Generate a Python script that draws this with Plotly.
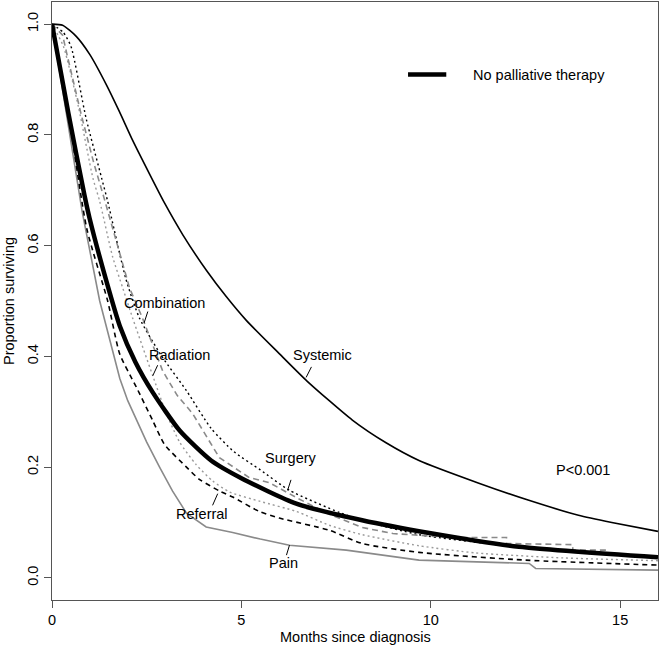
import plotly.graph_objects as go

# ---- data (months since diagnosis, proportion surviving) ----
systemic_x = [0, 0.28, 0.64, 1.0, 1.44, 1.78, 2.13, 2.57, 2.97, 3.45, 4.08, 4.6, 5.13, 6.0, 6.74,
              7.93, 8.82, 9.69, 11.27, 12.59, 13.9, 14.78, 16]
systemic_y = [1.0, 0.998, 0.978, 0.945, 0.89, 0.842, 0.79, 0.73, 0.677, 0.62, 0.555, 0.508, 0.465,
              0.405, 0.355, 0.285, 0.244, 0.212, 0.171, 0.140, 0.113, 0.10, 0.084]

none_x = [0, 0.43, 0.86, 0.99, 1.44, 1.79, 2.2, 2.66, 3.37, 4.2, 5.0, 6.45, 8.19, 9.96, 12.33, 16]
none_y = [1.0, 0.84, 0.69, 0.65, 0.535, 0.455, 0.39, 0.335, 0.266, 0.212, 0.18, 0.134, 0.104,
          0.081, 0.056, 0.037]

pain_x = [0, 0.4, 0.8, 1.26, 1.79, 2.0, 2.5, 2.84, 3.18, 3.55, 4.07, 4.77, 5.5, 6.27, 7.77, 9.69,
          12.6, 12.77, 16]
pain_y = [1.0, 0.83, 0.66, 0.50, 0.36, 0.32, 0.245, 0.2, 0.157, 0.117, 0.092, 0.082, 0.07, 0.059,
          0.05, 0.032, 0.026, 0.017, 0.014]

referral_x = [0, 0.45, 0.92, 1.47, 1.79, 2.23, 2.66, 2.97, 3.55, 3.89, 4.42, 4.77, 5.47, 6.0, 7.32,
              8.19, 9.69, 12.5, 16]
referral_y = [1.0, 0.83, 0.63, 0.50, 0.404, 0.344, 0.284, 0.241, 0.2, 0.178, 0.157, 0.146, 0.12,
              0.108, 0.086, 0.062, 0.046, 0.032, 0.023]

radiation_x = [0, 0.3, 0.7, 1.08, 1.26, 1.6, 1.87, 2.13, 2.66, 3.0, 3.37, 3.8, 4.24, 4.69, 5.5,
               6.45, 7.32, 8.19, 9.69, 11.19, 13.5, 16]
radiation_y = [1.0, 0.96, 0.85, 0.722, 0.68, 0.58, 0.523, 0.469, 0.365, 0.30, 0.245, 0.205, 0.175,
               0.155, 0.138, 0.12, 0.095, 0.078, 0.058, 0.045, 0.036, 0.031]

surgery_x = [0, 0.3, 0.5, 0.9, 1.31, 1.47, 1.95, 2.31, 2.9, 3.55, 4.2, 4.8, 5.5, 6.27, 7.59, 8.19,
             9.69, 12.0, 14.0, 16]
surgery_y = [1.0, 0.985, 0.96, 0.83, 0.722, 0.68, 0.54, 0.469, 0.40, 0.338, 0.27, 0.228, 0.195,
             0.158, 0.118, 0.104, 0.078, 0.058, 0.045, 0.037]

combination_x = [0, 0.28, 0.38, 0.77, 1.1, 1.4, 2.05, 2.39, 2.92, 3.3, 3.71, 4.42, 5.21, 5.74,
                 6.45, 7.32, 8.19, 9.0, 10.56, 12.0, 12.0, 13.75, 13.75, 14.7]
combination_y = [1.0, 0.98, 0.95, 0.837, 0.75, 0.68, 0.523, 0.469, 0.374, 0.33, 0.297, 0.217,
                 0.181, 0.172, 0.145, 0.115, 0.091, 0.08, 0.073, 0.073, 0.062, 0.06, 0.05, 0.05]

# labels: text, text position, pointer start, pointer end (data units)
label_text = ["Combination", "Radiation", "Systemic", "Surgery", "Referral", "Pain"]
label_xy = [(2.96, 0.497), (3.36, 0.403), (7.13, 0.403), (6.30, 0.2165), (3.96, 0.115), (6.12, 0.027)]
pointer_from = [(2.53, 0.481), (2.79, 0.384), (6.85, 0.381), (6.31, 0.177), (4.375, 0.152), (6.27, 0.059)]
pointer_to = [(2.43, 0.460), (2.66, 0.365), (6.71, 0.362), (6.22, 0.158), (4.24, 0.131), (6.19, 0.041)]

x_ticks = [0, 5, 10, 15]
y_ticks = [0.0, 0.2, 0.4, 0.6, 0.8, 1.0]

FONT = "Liberation Sans, Arial, Helvetica, sans-serif"
FS = 14.5
GRAY = "#8a8a8a"
LGRAY = "#9a9a9a"

fig = go.Figure()


def add(x, y, color, width, dash, shape="spline"):
    fig.add_trace(go.Scatter(x=x, y=y, mode="lines",
                             line=dict(color=color, width=width, dash=dash, shape=shape, smoothing=0.6),
                             showlegend=False, hoverinfo="skip"))


add(pain_x, pain_y, GRAY, 1.6, "solid", shape="linear")
add(referral_x, referral_y, "black", 1.6, "5px,4px")
add(radiation_x, radiation_y, LGRAY, 1.4, "2px,3px")
add(surgery_x, surgery_y, "black", 1.4, "2px,3px")
add(combination_x, combination_y, GRAY, 1.6, "6px,4px", shape="linear")
add(systemic_x, systemic_y, "black", 1.6, "solid")
add(none_x, none_y, "black", 4.5, "solid")

annotations = []
shapes = []
for t, (tx, ty), (fx, fy), (ex, ey) in zip(label_text, label_xy, pointer_from, pointer_to):
    annotations.append(dict(x=tx, y=ty, text=t, showarrow=False, xanchor="center", yanchor="middle",
                            font=dict(family=FONT, size=FS, color="black")))
    shapes.append(dict(type="line", x0=fx, y0=fy, x1=ex, y1=ey, xref="x", yref="y",
                       line=dict(color="black", width=1)))

annotations.append(dict(x=14.01, y=0.195, text="P<0.001", showarrow=False, xanchor="center",
                        yanchor="middle", font=dict(family=FONT, size=FS, color="black")))

# legend
shapes.append(dict(type="line", x0=9.4, y0=0.909, x1=10.41, y1=0.909, xref="x", yref="y",
                   line=dict(color="black", width=4.5)))
annotations.append(dict(x=11.06, y=0.909, text="No palliative therapy", showarrow=False,
                        xanchor="left", yanchor="middle", font=dict(family=FONT, size=FS, color="black")))

# axis titles
annotations.append(dict(x=0.5, y=0, xref="paper", yref="paper", text="Months since diagnosis",
                        showarrow=False, xanchor="center", yanchor="middle", yshift=-37,
                        font=dict(family=FONT, size=FS, color="black")))
annotations.append(dict(x=0, y=0.5, xref="paper", yref="paper", text="Proportion surviving",
                        showarrow=False, xanchor="center", yanchor="middle", xshift=-43, textangle=-90,
                        font=dict(family=FONT, size=FS, color="black")))

axis_common = dict(showgrid=False, zeroline=False, showline=True, linecolor="#555555", linewidth=1,
                   mirror=True, ticks="outside", ticklen=7, tickcolor="#555555", tickwidth=1,
                   automargin=False,
                   tickfont=dict(family=FONT, size=FS, color="black"))

fig.update_layout(
    width=660, height=648,
    margin=dict(l=52, r=2, t=2, b=48),
    paper_bgcolor="white", plot_bgcolor="white",
    xaxis=dict(range=[0, 16], tickvals=x_ticks, ticktext=[str(v) for v in x_ticks], **axis_common),
    yaxis=dict(range=[-0.04, 1.04], tickvals=y_ticks, ticktext=[f"{v:.1f}" for v in y_ticks],
               tickangle=-90, **axis_common),
    annotations=annotations,
    shapes=shapes,
    showlegend=False,
)

fig.write_html("out.html", config={"displayModeBar": False},
               post_script="document.body.style.margin='0';document.body.style.overflow='hidden';")
